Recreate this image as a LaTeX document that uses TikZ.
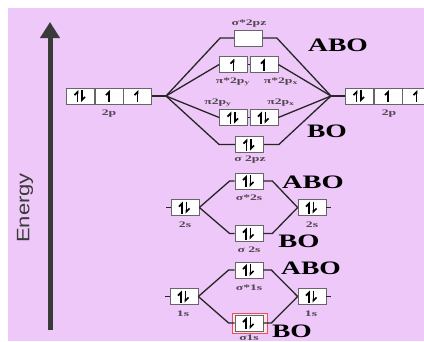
\documentclass[tikz,border=0pt]{standalone}
\usepackage{fontspec}
\setmainfont{Liberation Serif}
\newfontfamily\sanf{Liberation Sans}
\usetikzlibrary{arrows.meta}

\definecolor{bgpink}{RGB}{238,200,248}
\definecolor{axisgray}{RGB}{58,58,58}
\definecolor{lblgray}{RGB}{80,70,80}
\definecolor{hlred}{RGB}{230,80,95}

\newcommand\hstretch[2][1.6]{\scalebox{#1}[1]{#2}}
\newcommand\spinpair[1]{%
  \draw[spin] ([xshift=-3pt,yshift=-6pt]#1.center) -- ++(0,-12);
  \draw[spin] ([xshift=1.5pt,yshift=6pt]#1.center) -- ++(0,12);}
\newcommand\spinone[1]{%
  \draw[spin] ([yshift=-6pt]#1.center) -- ++(0,-12);}

\tikzset{
  orb/.style={draw=black!60, fill=white, line width=0.7pt,
    minimum width=28pt, minimum height=16pt, inner sep=0pt},
  spin/.style={line width=1.7pt, -{Straight Barb[left,length=3pt,width=6pt]}},
  link/.style={line width=1.3pt, black!85},
  lbl/.style={font=\bfseries\fontsize{8.5}{9}\selectfont, text=lblgray, inner sep=0pt},
  tag/.style={font=\bfseries\fontsize{19}{19}\selectfont, inner sep=0pt},
}

\begin{document}
\begin{tikzpicture}[x=1pt,y=-1pt]
  \useasboundingbox (0,0) rectangle (424,341);
  \fill[bgpink] (8,8) rectangle (424,341);

  % energy axis
  \draw[axisgray, line width=5pt, -{Triangle[length=16pt,width=19pt]}] (50,330) -- (50,22);
  \node[font=\sanf\fontsize{18}{18}\selectfont, text=axisgray, rotate=90] (energy) at (25,208) {\hstretch[1.22]{Energy}};

  % 2p atomic orbitals
  \foreach \i/\x in {1/80.5,2/109,3/137.5}
    \node[orb] (pL\i) at (\x,96) {};
  \foreach \i/\x in {1/359.5,2/388,3/416.5}
    \node[orb] (pR\i) at (\x,96) {};
  \spinpair{pL1} \spinone{pL2} \spinone{pL3}
  \spinpair{pR1} \spinone{pR2} \spinone{pR3}
  \node[lbl] (pLlab) at (109,114) {\hstretch{2p}};
  \node[lbl] (pRlab) at (389,114) {\hstretch{2p}};
  \coordinate (pLhub) at (166,96);
  \coordinate (pRhub) at (331,96);

  % 2p molecular orbitals
  \node[orb] (sz2a) at (248.5,38) {};
  \node[orb] (pia1) at (233.5,64.5) {};
  \node[orb] (pia2) at (264,64.5) {};
  \node[orb] (pib1) at (233.5,117.5) {};
  \node[orb] (pib2) at (264,117.5) {};
  \node[orb] (sz2b) at (249.5,144.5) {};
  \spinone{pia1} \spinone{pia2}
  \spinpair{pib1} \spinpair{pib2}
  \spinpair{sz2b}
  \node[lbl] at (249,24) {\hstretch{σ*2pz}};
  \node[lbl] at (233,82) {\hstretch{π*2p\textsubscript{y}}};
  \node[lbl] at (281,82) {\hstretch{π*2p\textsubscript{x}}};
  \node[lbl] at (218,103) {\hstretch{π2p\textsubscript{y}}};
  \node[lbl] at (281,103) {\hstretch{π2p\textsubscript{x}}};
  \node[lbl] at (250,160) {\hstretch{σ 2pz}};

  \draw[link] (pL3.east) -- (pLhub);
  \draw[link] (pLhub) -- ([xshift=-14pt]sz2a.west) -- (sz2a.west);
  \draw[link] (pLhub) -- (pia1.west);
  \draw[link] (pLhub) -- (pib1.west);
  \draw[link] (pLhub) -- ([xshift=-16pt]sz2b.west) -- (sz2b.west);
  \draw[link] (sz2a.east) -- ([xshift=14pt]sz2a.east) -- (pRhub);
  \draw[link] (pia2.east) -- (pRhub);
  \draw[link] (pib2.east) -- (pRhub);
  \draw[link] (sz2b.east) -- ([xshift=15pt]sz2b.east) -- (pRhub);
  \draw[link] (pRhub) -- (pR1.west);
  \draw[link, line width=0.8pt] (pia1.east) -- (pia2.west);
  \draw[link, line width=0.8pt] (pib1.east) -- (pib2.west);

  \node[tag] (abo2p) at (338,45.5) {\hstretch[1.45]{ABO}};
  \node[tag] (bo2p) at (327,131.5) {\hstretch[1.45]{BO}};

  % 2s
  \node[orb] (s2a) at (249,181) {};
  \node[orb] (s2L) at (185,207.5) {};
  \node[orb] (s2R) at (312,207.5) {};
  \node[orb] (s2b) at (249,233.5) {};
  \spinpair{s2a} \spinpair{s2L} \spinpair{s2R} \spinpair{s2b}
  \node[lbl] at (249,197.5) {\hstretch{σ*2s}};
  \node[lbl] at (185,224.5) {\hstretch{2s}};
  \node[lbl] at (312,224.5) {\hstretch{2s}};
  \node[lbl] at (249,250) {\hstretch{σ 2s}};
  \draw[link] (s2L.west) -- ++(-5,0);
  \draw[link] (s2R.east) -- ++(5,0);
  \draw[link] (s2L.east) -- ([xshift=-5pt]s2a.west) -- (s2a.west);
  \draw[link] (s2L.east) -- ([xshift=-5pt]s2b.west) -- (s2b.west);
  \draw[link] (s2a.east) -- ([xshift=9pt]s2a.east) -- (s2R.west);
  \draw[link] (s2b.east) -- ([xshift=9pt]s2b.east) -- (s2R.west);
  \node[tag] (abo2s) at (313,182) {\hstretch[1.5]{ABO}};
  \node[tag] (bo2s) at (299,241) {\hstretch[1.5]{BO}};

  % 1s
  \node[draw=hlred, line width=1pt, fill=hlred!15, minimum width=35pt, minimum height=20pt] (s1hl) at (249.5,323) {};
  \node[orb] (s1a) at (249,270) {};
  \node[orb] (s1L) at (184,296.5) {};
  \node[orb] (s1R) at (312,296.5) {};
  \node[orb] (s1b) at (249,323) {};
  \spinpair{s1a} \spinpair{s1L} \spinpair{s1R} \spinpair{s1b}
  \node[lbl] at (249,288) {\hstretch{σ*1s}};
  \node[lbl] at (183,313.5) {\hstretch{1s}};
  \node[lbl] at (311,313.5) {\hstretch{1s}};
  \node[lbl] at (249,337.5) {\hstretch{σ1s}};
  \draw[link] (s1L.west) -- ++(-5,0);
  \draw[link] (s1R.east) -- ++(5,0);
  \draw[link] (s1L.east) -- ([xshift=-6pt]s1a.west) -- (s1a.west);
  \draw[link] (s1L.east) -- ([xshift=-6pt]s1b.west) -- (s1b.west);
  \draw[link] (s1a.east) -- ([xshift=8pt]s1a.east) -- (s1R.west);
  \draw[link] (s1b.east) -- ([xshift=8pt]s1b.east) -- (s1R.west);
  \node[tag] (abo1s) at (311,268.5) {\hstretch[1.45]{ABO}};
  \node[tag] (bo1s) at (292,331) {\hstretch[1.45]{BO}};
\end{tikzpicture}
\end{document}
